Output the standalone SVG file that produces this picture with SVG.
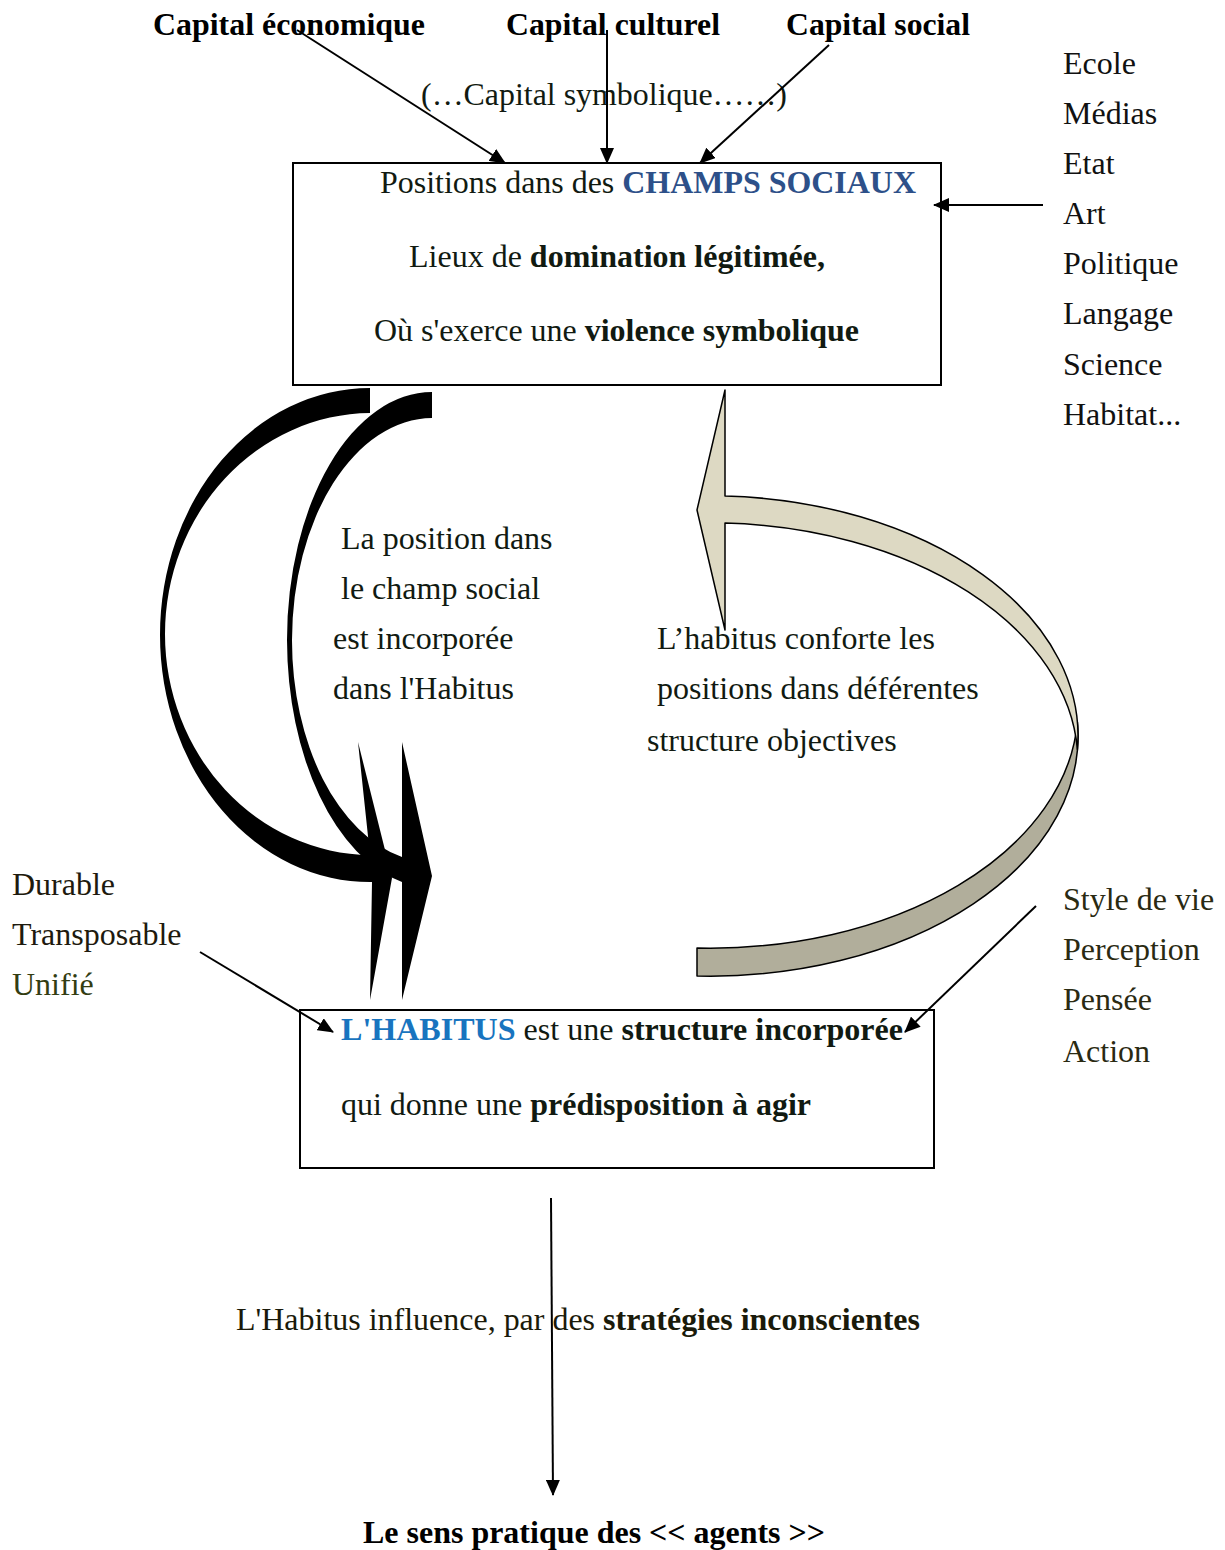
<svg xmlns="http://www.w3.org/2000/svg" width="1225" height="1550" viewBox="0 0 1225 1550">
<defs>
<marker id="ah" viewBox="0 0 16 14" refX="15" refY="7" markerWidth="16" markerHeight="14" markerUnits="userSpaceOnUse" orient="auto">
<path d="M0,0 L16,7 L0,14 z" fill="#000"/>
</marker>
</defs>
<style>
text{font-family:"Liberation Serif","Times New Roman",serif;font-size:32px;fill:#111a11}
.b{font-weight:bold}
.cap{font-size:32px;font-weight:bold;fill:#000}
.blue1{fill:#2d5089;font-weight:bold}
.blue2{fill:#1874bf;font-weight:bold}
.lst{fill:#111}
.brn{fill:#1e1a0e}
.olv{fill:#333d12}
.olv2{fill:#2a2a12}
.box{fill:#fff;stroke:#000;stroke-width:2}
.con{stroke:#000;stroke-width:2;fill:none}
.blk{fill:#000;stroke:none}
.beige{fill:#ddd9c3;stroke:#000;stroke-width:1.5;stroke-linejoin:round}
.beige2{fill:#b1ae9b;stroke:#000;stroke-width:1.5;stroke-linejoin:round}
</style>

<g id="labels-capital">
<text class="cap" x="153" y="35" textLength="272" lengthAdjust="spacingAndGlyphs">Capital économique</text>
<text class="cap" x="506" y="35" textLength="214" lengthAdjust="spacingAndGlyphs">Capital culturel</text>
<text class="cap" x="786" y="35" textLength="184" lengthAdjust="spacingAndGlyphs">Capital social</text>
<text x="421" y="105" textLength="366" lengthAdjust="spacingAndGlyphs">(…Capital symbolique……)</text>
</g>

<g id="node-champs">
<rect class="box" x="293" y="163" width="648" height="222"/>
<text x="380" y="193" textLength="536" lengthAdjust="spacingAndGlyphs">Positions dans des <tspan class="blue1">CHAMPS SOCIAUX</tspan></text>
<text x="409" y="267" textLength="416" lengthAdjust="spacingAndGlyphs">Lieux de <tspan class="b">domination légitimée,</tspan></text>
<text x="374" y="341" textLength="485" lengthAdjust="spacingAndGlyphs">Où s'exerce une <tspan class="b">violence symbolique</tspan></text>
</g>

<g id="list-champs">
<text class="lst" x="1063" y="74">Ecole</text>
<text class="lst" x="1063" y="124">Médias</text>
<text class="lst" x="1063" y="174">Etat</text>
<text class="lst" x="1063" y="224">Art</text>
<text class="lst" x="1063" y="274">Politique</text>
<text class="lst" x="1063" y="324">Langage</text>
<text class="lst" x="1063" y="375">Science</text>
<text class="lst" x="1063" y="425">Habitat...</text>
</g>

<g id="node-habitus">
<rect class="box" x="300" y="1010" width="634" height="158"/>
<text x="341" y="1040" textLength="562" lengthAdjust="spacingAndGlyphs"><tspan class="blue2">L'HABITUS</tspan> est une <tspan class="b">structure incorporée</tspan></text>
<text x="341" y="1115" textLength="470" lengthAdjust="spacingAndGlyphs">qui donne une <tspan class="b">prédisposition à agir</tspan></text>
</g>

<g id="list-qualites">
<text class="brn" x="12" y="895">Durable</text>
<text class="brn" x="12" y="945">Transposable</text>
<text class="olv" x="12" y="995">Unifié</text>
</g>

<g id="list-pratiques">
<text class="olv2" x="1063" y="910">Style de vie</text>
<text class="olv2" x="1063" y="960">Perception</text>
<text class="olv2" x="1063" y="1010">Pensée</text>
<text class="olv2" x="1063" y="1062">Action</text>
</g>

<g id="connectors">
<line class="con" x1="297" y1="30" x2="505" y2="163" marker-end="url(#ah)"/>
<line class="con" x1="607" y1="30" x2="607" y2="163" marker-end="url(#ah)"/>
<line class="con" x1="829" y1="45" x2="700" y2="163" marker-end="url(#ah)"/>
<line class="con" x1="1043" y1="205" x2="934" y2="205" marker-end="url(#ah)"/>
<line class="con" x1="200" y1="952" x2="333" y2="1032" marker-end="url(#ah)"/>
<line class="con" x1="1036" y1="906" x2="905" y2="1032" marker-end="url(#ah)"/>
<line class="con" x1="551" y1="1198" x2="553" y2="1495" marker-end="url(#ah)"/>
<path id="curve-incorporation-1" class="blk" d="M370,388 A210,247 0 0 0 160,635 A210,247 0 0 0 372,882 L370,1000 L392,878 L358,742 L370,855 A207,221 0 0 1 165,634 A207,221 0 0 1 370,413 Z"/>
<path id="curve-incorporation-2" class="blk" d="M432,392 A145,248 0 0 0 287,640 A145,248 0 0 0 402,882 L402,1000 L432,876 L402,742 L402,857 A141,222 0 0 1 292,640 A141,222 0 0 1 432,418 Z"/>
<path id="curve-confort-back" class="beige2" d="M1077.4,722 A368,240 0 0 1 697,976 L697,948 A368,240 0 0 0 1077.4,722 Z"/>
<path id="curve-confort-front" class="beige" d="M725,390 L697,510 L725,630 L725,523 A368,240 0 0 1 1077.4,749.5 A368,240 0 0 0 725,496 Z"/>
</g>

<g id="label-incorporation">
<text x="341" y="549">La position dans</text>
<text x="341" y="599">le champ social</text>
<text x="333" y="649">est incorporée</text>
<text x="333" y="699">dans l'Habitus</text>
</g>

<g id="label-confort">
<text x="657" y="649">L’habitus conforte les</text>
<text x="657" y="699">positions dans déférentes</text>
<text x="647" y="751">structure objectives</text>
</g>

<g id="label-influence">
<text x="236" y="1330" textLength="684" lengthAdjust="spacingAndGlyphs" style="fill:#1a1a0a">L'Habitus influence, par des <tspan class="b">stratégies inconscientes</tspan></text>
</g>

<g id="node-sens-pratique">
<text class="cap" x="363" y="1543" textLength="462" lengthAdjust="spacingAndGlyphs">Le sens pratique des &lt;&lt; agents &gt;&gt;</text>
</g>
</svg>
